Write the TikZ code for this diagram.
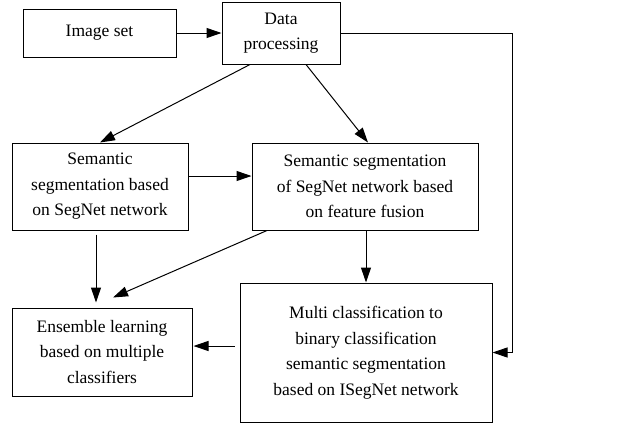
\documentclass[tikz,border=0pt]{standalone}
\usepackage{fontspec}
\setmainfont{Liberation Serif}
\usetikzlibrary{arrows.meta}
\begin{document}
\begin{tikzpicture}[x=1pt,y=-1pt,
  box/.style={draw, line width=1pt, rectangle, inner sep=0pt, align=center,
    font=\fontsize{17.5}{25.5}\selectfont},
  conn/.style={line width=1pt, -{Triangle[length=15pt,width=10pt]}}]
\useasboundingbox (0,0) rectangle (632,424);

\node[box, minimum width=153pt, minimum height=48pt] (img) at (99.5,33) {Image set};
\node[box, minimum width=118pt, minimum height=62pt] (data) at (281,33) {Data\\processing};
\node[box, minimum width=176pt, minimum height=87pt] (sem1) at (100,186.5)
  {Semantic\\segmentation based\\on SegNet network};
\node[box, minimum width=226pt, minimum height=87pt] (sem2) at (365,186.5)
  {Semantic segmentation\\of SegNet network based\\on feature fusion};
\node[box, minimum width=180pt, minimum height=88pt] (ens) at (102,352)
  {Ensemble learning\\based on multiple\\classifiers};
\node[box, minimum width=252pt, minimum height=139pt] (multi) at (366,352.5)
  {Multi classification to\\binary classification\\semantic segmentation\\based on ISegNet network};

\coordinate (turn) at (512,33);

\draw[conn] (img) -- (data);
\draw[conn] ([xshift=-31pt]data.south) -- (sem1.north);
\draw[conn] ([xshift=25pt]data.south) -- ([xshift=3pt]sem2.north);
\draw[conn] ([yshift=10.5pt]sem1.east) -- ([yshift=10.5pt]sem2.west);
\draw[conn] ([xshift=-4pt,yshift=-4pt]sem1.south) -- ([xshift=-6pt,yshift=5pt]ens.north);
\draw[conn] ([xshift=-98pt]sem2.south) -- ([xshift=11pt,yshift=10pt]ens.north);
\draw[conn] ([xshift=1pt]sem2.south) -- (multi.north);
\draw[conn] ([xshift=-5pt,yshift=6.5pt]multi.west) -- ([xshift=1pt,yshift=6pt]ens.east);
\draw[conn] (data.east) -- (turn) |- (multi.east);
\end{tikzpicture}
\end{document}
